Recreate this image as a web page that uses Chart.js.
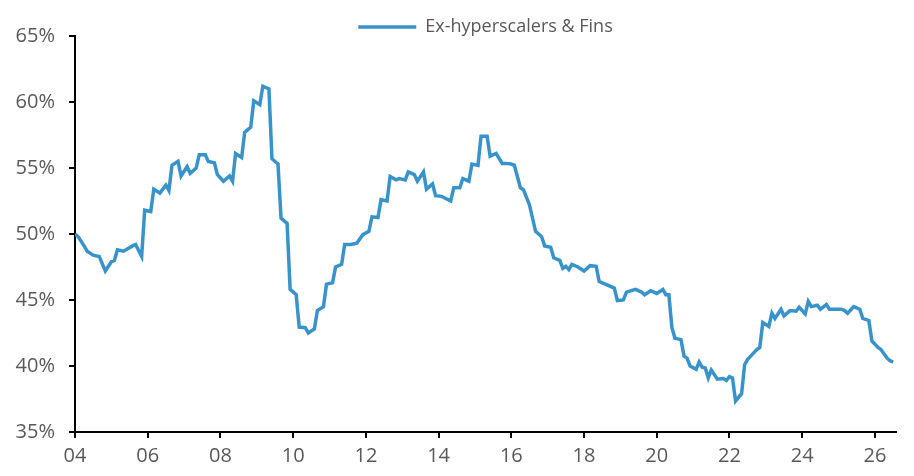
<!DOCTYPE html>
<html>
<head>
<meta charset="utf-8">
<title>Ex-hyperscalers & Fins</title>
<script src="https://cdn.jsdelivr.net/npm/chart.js@4.4.0/dist/chart.umd.min.js"></script>
<style>
    html, body { margin: 0; padding: 0; background: #fff; }
    #wrap { width: 914px; height: 476px; position: relative; }
</style>
</head>
<body>
<div id="wrap"><canvas id="shareChart"></canvas></div>
<script>
// Values (month, % share)
const seriesName = 'Ex-hyperscalers & Fins';

const months = [
    '2004-01', '2004-02', '2004-04', '2004-05', '2004-07', '2004-09', '2004-11', '2005-01', '2005-02', '2005-03',
    '2005-05', '2005-08', '2005-09', '2005-11', '2005-12', '2006-02', '2006-03', '2006-05', '2006-07', '2006-08',
    '2006-09', '2006-11', '2006-12', '2007-02', '2007-03', '2007-05', '2007-06', '2007-08', '2007-09', '2007-11',
    '2007-12', '2008-02', '2008-04', '2008-05', '2008-06', '2008-08', '2008-09', '2008-11', '2008-12', '2009-02',
    '2009-03', '2009-05', '2009-06', '2009-08', '2009-09', '2009-11', '2009-12', '2010-02', '2010-03', '2010-05',
    '2010-06', '2010-08', '2010-09', '2010-11', '2010-12', '2011-02', '2011-03', '2011-05', '2011-06', '2011-08',
    '2011-10', '2011-12', '2012-02', '2012-03', '2012-05', '2012-06', '2012-08', '2012-09', '2012-11', '2012-12',
    '2013-02', '2013-03', '2013-05', '2013-06', '2013-08', '2013-09', '2013-11', '2013-12', '2014-02', '2014-05',
    '2014-06', '2014-08', '2014-09', '2014-11', '2014-12', '2015-02', '2015-03', '2015-05', '2015-06', '2015-08',
    '2015-10', '2015-11', '2016-01', '2016-02', '2016-04', '2016-05', '2016-07', '2016-09', '2016-11', '2016-12',
    '2017-02', '2017-03', '2017-05', '2017-06', '2017-07', '2017-08', '2017-09', '2017-11', '2018-01', '2018-03',
    '2018-05', '2018-06', '2018-08', '2018-11', '2018-12', '2019-02', '2019-03', '2019-06', '2019-08', '2019-09',
    '2019-11', '2020-01', '2020-03', '2020-04', '2020-05', '2020-06', '2020-07', '2020-09', '2020-10', '2020-11',
    '2020-12', '2021-02', '2021-03', '2021-04', '2021-05', '2021-06', '2021-07', '2021-09', '2021-11', '2021-12',
    '2022-01', '2022-02', '2022-03', '2022-05', '2022-06', '2022-07', '2022-08', '2022-10', '2022-11', '2022-12',
    '2023-02', '2023-03', '2023-04', '2023-06', '2023-07', '2023-09', '2023-11', '2023-12', '2024-02', '2024-03',
    '2024-04', '2024-06', '2024-07', '2024-09', '2024-10', '2024-12', '2025-02', '2025-03', '2025-04', '2025-06',
    '2025-08', '2025-09', '2025-11', '2025-12', '2026-02', '2026-03', '2026-05', '2026-06', '2026-07'
];

const shares = [
    50.0, 49.8, 49.1, 48.7, 48.4, 48.3, 47.2, 47.9, 48.0, 48.8,
    48.7, 49.1, 49.2, 48.3, 51.8, 51.7, 53.4, 53.1, 53.7, 53.3,
    55.2, 55.5, 54.4, 55.1, 54.6, 55.0, 56.0, 56.0, 55.5, 55.4,
    54.5, 54.0, 54.4, 54.0, 56.1, 55.8, 57.7, 58.1, 60.1, 59.8,
    61.2, 61.0, 55.7, 55.3, 51.2, 50.8, 45.8, 45.4, 42.95, 42.9,
    42.5, 42.8, 44.2, 44.5, 46.2, 46.3, 47.5, 47.7, 49.2, 49.2,
    49.3, 49.95, 50.2, 51.3, 51.25, 52.6, 52.5, 54.35, 54.1, 54.2,
    54.1, 54.7, 54.5, 54.0, 54.7, 53.4, 53.8, 52.9, 52.85, 52.5,
    53.5, 53.5, 54.2, 54.0, 55.3, 55.2, 57.4, 57.4, 55.9, 56.1,
    55.35, 55.35, 55.3, 55.2, 53.5, 53.35, 52.2, 50.2, 49.8, 49.1,
    49.0, 48.2, 48.0, 47.4, 47.55, 47.3, 47.7, 47.5, 47.2, 47.6,
    47.55, 46.4, 46.2, 45.9, 44.95, 45.0, 45.6, 45.8, 45.6, 45.4,
    45.7, 45.5, 45.8, 45.4, 45.4, 42.9, 42.1, 42.0, 40.75, 40.6,
    40.0, 39.75, 40.3, 39.9, 39.85, 39.1, 39.7, 39.0, 39.05, 38.9,
    39.2, 39.1, 37.35, 37.9, 40.1, 40.5, 40.75, 41.25, 41.4, 43.3,
    43.0, 44.0, 43.6, 44.3, 43.8, 44.2, 44.15, 44.45, 43.95, 44.9,
    44.5, 44.6, 44.3, 44.65, 44.3, 44.3, 44.3, 44.2, 44.0, 44.5,
    44.3, 43.6, 43.45, 41.9, 41.4, 41.25, 40.6, 40.4, 40.3
];

const xTickYears = [2004, 2006, 2008, 2010, 2012, 2014, 2016, 2018, 2020, 2022, 2024, 2026];
const yTickValues = [35, 40, 45, 50, 55, 60, 65];

document.addEventListener('DOMContentLoaded', function () {
    const ctx = document.getElementById('shareChart');

    const lineColor = '#3893ca';
    const textColor = '#595959';
    const fontFamily = '"Open Sans", "Noto Sans", sans-serif';

    // "2004-07" -> 2004.5
    const toYear = m => {
        const [y, mo] = m.split('-').map(Number);
        return y + (mo - 1) / 12;
    };
    const points = months.map((m, i) => ({ x: toYear(m), y: shares[i] }));

    // nudge the legend down a little so it sits just above the plot top
    const legendNudge = {
        id: 'legendNudge',
        afterLayout(chart) {
            const lg = chart.legend;
            if (!lg) return;
            lg.top += 10;
            lg.bottom += 10;
        }
    };

    new Chart(ctx, {
        type: 'line',
        data: {
            datasets: [{
                label: seriesName,
                data: points,
                borderColor: lineColor,
                backgroundColor: lineColor,
                borderWidth: 3.5,
                pointRadius: 0,
                tension: 0,
                fill: false
            }]
        },
        options: {
            responsive: true,
            maintainAspectRatio: false,
            animation: false,
            layout: {
                padding: { top: 8, right: 18, bottom: 0, left: 0 }
            },
            plugins: {
                tooltip: { enabled: false },
                legend: {
                    position: 'top',
                    fullSize: false,
                    labels: {
                        usePointStyle: true,
                        pointStyle: 'line',
                        pointStyleWidth: 58,
                        boxHeight: 4,
                        padding: 0,
                        color: textColor,
                        font: { family: fontFamily, size: 18 }
                    }
                }
            },
            scales: {
                x: {
                    type: 'linear',
                    min: 2004,
                    max: 2026.58,
                    afterBuildTicks: scale => {
                        scale.ticks = xTickYears.map(v => ({ value: v }));
                    },
                    afterFit: scale => { scale.height = 44; },
                    grid: {
                        drawOnChartArea: false,
                        drawTicks: true,
                        tickLength: 6,
                        color: '#000',
                        lineWidth: 2
                    },
                    border: { color: '#000', width: 2 },
                    ticks: {
                        padding: 6,
                        color: textColor,
                        maxRotation: 0,
                        font: { family: fontFamily, size: 20 },
                        callback: value => String(Math.round(value) % 100).padStart(2, '0')
                    }
                },
                y: {
                    min: 35,
                    max: 65,
                    afterBuildTicks: scale => {
                        scale.ticks = yTickValues.map(v => ({ value: v }));
                    },
                    afterFit: scale => { scale.width = 75; },
                    grid: {
                        drawOnChartArea: false,
                        drawTicks: true,
                        tickLength: 6,
                        color: '#000',
                        lineWidth: 2
                    },
                    border: { color: '#000', width: 2 },
                    ticks: {
                        padding: 14,
                        color: textColor,
                        font: { family: fontFamily, size: 20 },
                        callback: value => value + '%'
                    }
                }
            }
        },
        plugins: [legendNudge]
    });
});
</script>
</body>
</html>
